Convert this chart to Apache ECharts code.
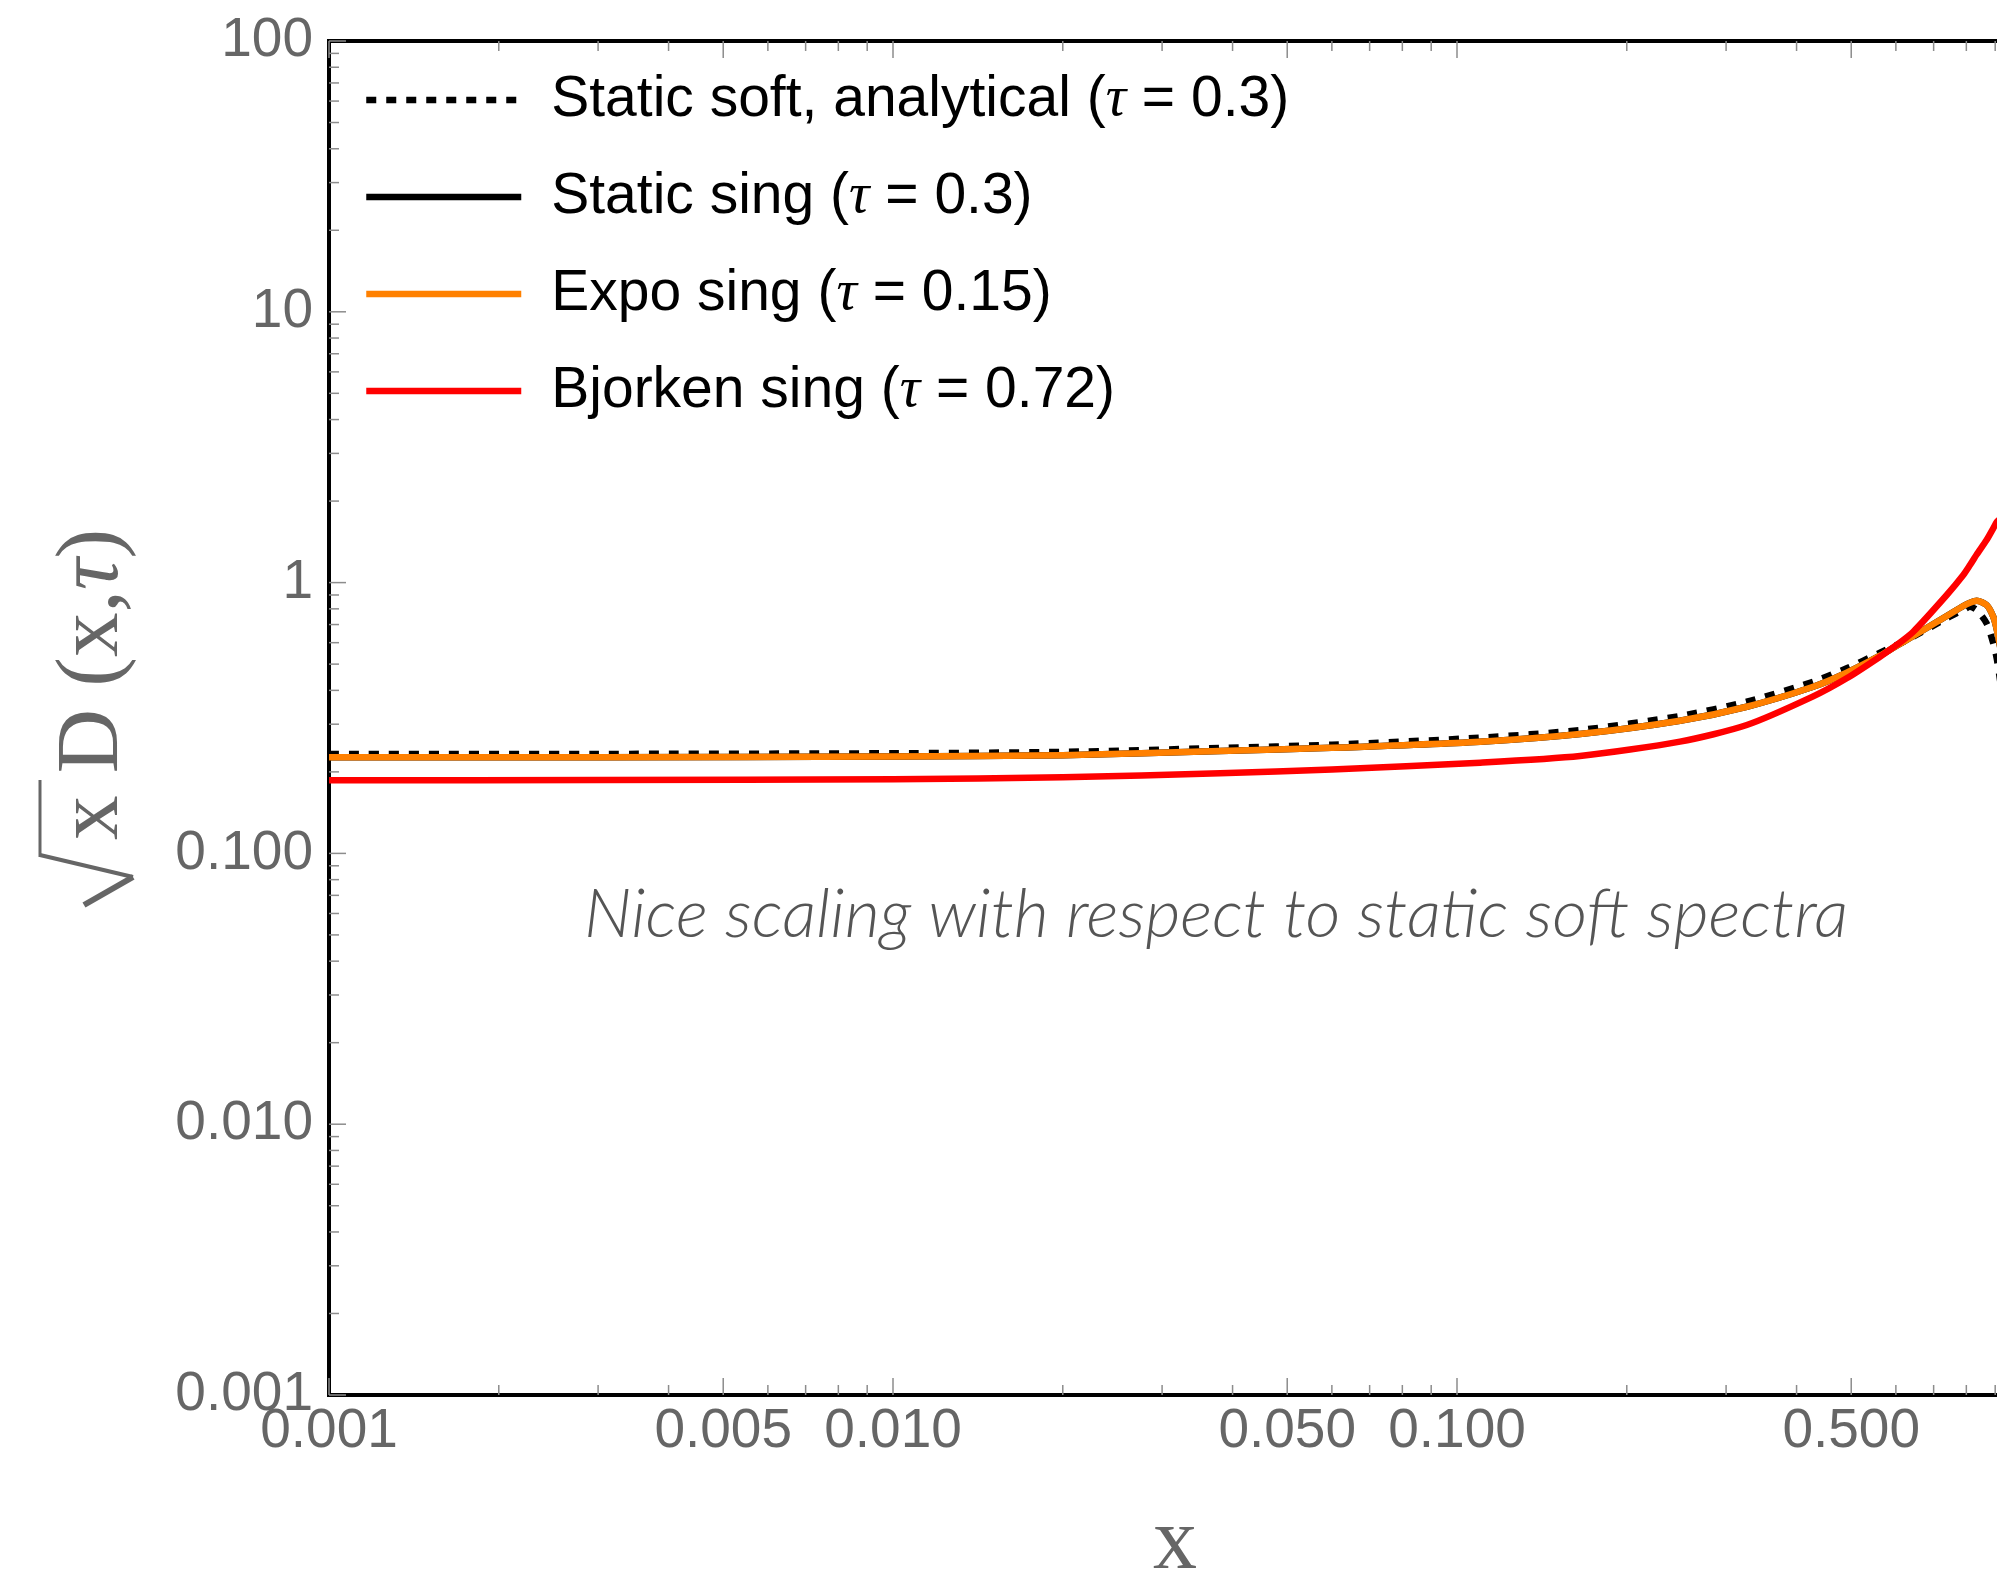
<!DOCTYPE html>
<html>
<head>
<meta charset="utf-8">
<script src="https://cdn.jsdelivr.net/npm/echarts@6/dist/echarts.min.js"></script>
<style>
  html, body { margin: 0; padding: 0; background: #fff; }
  #chart { width: 1997px; height: 1573px; }
</style>
</head>
<body>
<div id="chart"></div>
<script>
// Sample positions in x (log scale)
const xValues = [0.001, 0.003, 0.01, 0.02, 0.038, 0.06, 0.1099, 0.1652, 0.2485, 0.3264, 0.4281, 0.4908, 0.5623, 0.602, 0.6442, 0.7385, 0.7901, 0.812, 0.8345, 0.8689, 0.8929, 0.9067, 0.93];

// sqrt(x) D(x, tau) for each model
const staticSoft  = [0.2328, 0.2330, 0.2343, 0.2370, 0.2450, 0.2520, 0.2675, 0.2855, 0.3217, 0.3633, 0.4306, 0.4826, 0.5510, 0.5884, 0.6313, 0.7384, 0.7922, 0.8149, 0.7922, 0.7075, 0.5970, 0.5178, 0.36];
const staticSing  = [0.2264, 0.2266, 0.2279, 0.2305, 0.2388, 0.2455, 0.2586, 0.2761, 0.3090, 0.3480, 0.4126, 0.4649, 0.5372, 0.5848, 0.6351, 0.7527, 0.8196, 0.8430, 0.8574, 0.8266, 0.7484, 0.665, 0.50];
const expoSing    = [0.2264, 0.2266, 0.2279, 0.2305, 0.2388, 0.2455, 0.2586, 0.2761, 0.3090, 0.3480, 0.4126, 0.4649, 0.5372, 0.5848, 0.6351, 0.7527, 0.8196, 0.8430, 0.8574, 0.8266, 0.7484, 0.665, 0.50];
const bjorkenSing = [0.1862, 0.1866, 0.1878, 0.1912, 0.1976, 0.2040, 0.2163, 0.2289, 0.2586, 0.2979, 0.3800, 0.4431, 0.5326, 0.5884, 0.6587, 0.9000, 1.067, 1.161, 1.27, 1.436, 1.587, 1.679, 1.75];

const seriesNames = ['Static soft, analytical', 'Static sing', 'Expo sing', 'Bjorken sing'];
const seriesTau   = ['0.3', '0.3', '0.15', '0.72'];

// Axis ticks and labels
const xMajorTicks = [0.001, 0.005, 0.01, 0.05, 0.1, 0.5, 1];
const xLabelValues = [0.001, 0.005, 0.01, 0.05, 0.1, 0.5];
const xTickLabels = ['0.001', '0.005', '0.010', '0.050', '0.100', '0.500'];
const xMinorTicks = [0.002, 0.003, 0.004, 0.006, 0.007, 0.008, 0.009,
                     0.02, 0.03, 0.04, 0.06, 0.07, 0.08, 0.09,
                     0.2, 0.3, 0.4, 0.6, 0.7, 0.8, 0.9];
const yMajorTicks = [0.001, 0.01, 0.1, 1, 10, 100];
const yMinorTicks = [0.002, 0.003, 0.004, 0.005, 0.006, 0.007, 0.008, 0.009,
                     0.02, 0.03, 0.04, 0.05, 0.06, 0.07, 0.08, 0.09,
                     0.2, 0.3, 0.4, 0.5, 0.6, 0.7, 0.8, 0.9,
                     2, 3, 4, 5, 6, 7, 8, 9,
                     20, 30, 40, 50, 60, 70, 80, 90];

const annotation = 'Nice scaling with respect to static soft spectra';

const pairs = vals => xValues.map((x, i) => [x, vals[i]]);

const chart = echarts.init(document.getElementById('chart'), null, { renderer: 'canvas' });

const LINE_W = 6.5;
const tickColor = '#8c8c8c';
const labelColor = '#666666';

const lineSeries = (name, vals, lineStyle) => ({
  name, type: 'line', data: pairs(vals), symbol: 'none', showSymbol: false,
  smooth: 0.25,
  lineStyle: Object.assign({ width: LINE_W, cap: 'butt', join: 'round' }, lineStyle),
  itemStyle: { color: lineStyle.color }
});

const option = {
  animation: false,
  backgroundColor: '#ffffff',
  grid: {
    left: 329, top: 41, right: -24, bottom: 178,
    outerBoundsMode: 'none', containLabel: false,
    show: true, borderColor: '#000', borderWidth: 4, backgroundColor: 'transparent'
  },
  xAxis: {
    type: 'log', logBase: 10, min: 0.001, max: 1,
    axisLine: { show: false }, axisTick: { show: false },
    axisLabel: { show: false }, splitLine: { show: false },
    name: 'x', nameLocation: 'middle', nameGap: 150,
    nameTextStyle: { fontFamily: 'Liberation Serif', fontSize: 88, color: labelColor, verticalAlign: 'middle' }
  },
  yAxis: {
    type: 'log', logBase: 10, min: 0.001, max: 100,
    axisLine: { show: false }, axisTick: { show: false }, splitLine: { show: false },
    axisLabel: {
      margin: 16, fontFamily: 'Liberation Sans', fontSize: 55, color: labelColor,
      formatter: v => (v >= 1 ? String(Math.round(v)) : v.toFixed(3))
    }
  },
  legend: {
    orient: 'vertical', left: 358, top: 65, padding: 5,
    itemWidth: 155, itemHeight: 20, itemGap: 37,
    data: seriesNames,
    itemStyle: { opacity: 0 },
    lineStyle: { width: LINE_W },
    formatter: name => {
      const i = seriesNames.indexOf(name);
      return name + ' ({t|τ} = ' + seriesTau[i] + ')';
    },
    textStyle: {
      fontFamily: 'Liberation Sans', fontSize: 57, color: '#000', lineHeight: 60,
      padding: [0, 0, 0, 25],
      rich: { t: { fontFamily: 'Liberation Serif', fontStyle: 'italic', fontSize: 57, lineHeight: 60, color: '#000' } }
    }
  },
  series: [
    lineSeries(seriesNames[0], staticSoft, { color: '#000000', type: [10, 10] }),
    lineSeries(seriesNames[1], staticSing, { color: '#000000' }),
    lineSeries(seriesNames[2], expoSing, { color: '#ff8000' }),
    lineSeries(seriesNames[3], bjorkenSing, { color: '#ff0000' })
  ]
};

chart.setOption(option);

// Tick marks, x tick labels, the y-axis title and the annotation, placed through the axis scales
const toPxX = v => chart.convertToPixel({ xAxisIndex: 0 }, v);
const toPxY = v => chart.convertToPixel({ yAxisIndex: 0 }, v);
const plotLeft = toPxX(0.001), plotTop = toPxY(100), plotBottom = toPxY(0.001);
const graphics = [];
const tick = (x1, y1, x2, y2) => graphics.push({
  type: 'line', silent: true, z: 5,
  shape: { x1, y1, x2, y2 }, style: { stroke: tickColor, lineWidth: 1.5 }
});
xMajorTicks.forEach(v => { const x = toPxX(v); tick(x, plotBottom, x, plotBottom - 17); tick(x, plotTop, x, plotTop + 17); });
xMinorTicks.forEach(v => { const x = toPxX(v); tick(x, plotBottom, x, plotBottom - 10); tick(x, plotTop, x, plotTop + 10); });
yMajorTicks.forEach(v => { const y = toPxY(v); tick(plotLeft, y, plotLeft + 17, y); });
yMinorTicks.forEach(v => { const y = toPxY(v); tick(plotLeft, y, plotLeft + 10, y); });

xLabelValues.forEach((v, i) => graphics.push({
  type: 'text', silent: true, x: toPxX(v), y: 1432,
  style: { text: xTickLabels[i], font: '55px "Liberation Sans"', fill: labelColor, align: 'center', verticalAlign: 'middle' }
}));

// y-axis title: sqrt(x) D (x, tau), read bottom to top
graphics.push({
  type: 'text', silent: true, x: 94, y: 840, rotation: Math.PI / 2,
  style: {
    text: 'x D (x,{t|τ})', fill: labelColor, font: '89px "Liberation Serif"',
    align: 'left', verticalAlign: 'middle',
    rich: { t: { fontFamily: 'Liberation Serif', fontStyle: 'italic', fontSize: 89, fill: labelColor } }
  }
});
graphics.push({
  type: 'polyline', silent: true,
  shape: { points: [[84, 905], [133, 877]] }, style: { stroke: labelColor, lineWidth: 6, fill: null }
});
graphics.push({
  type: 'polyline', silent: true,
  shape: { points: [[133, 877], [40, 855]] }, style: { stroke: labelColor, lineWidth: 4, fill: null }
});
graphics.push({
  type: 'polyline', silent: true,
  shape: { points: [[40, 857], [40, 780]] }, style: { stroke: labelColor, lineWidth: 3, fill: null }
});

graphics.push({
  type: 'text', silent: true, x: 1216, y: 915,
  style: { text: annotation, fill: '#555555', font: 'italic 300 68px Lato', align: 'center', verticalAlign: 'middle' }
});

chart.setOption({ graphic: graphics });
</script>
</body>
</html>
